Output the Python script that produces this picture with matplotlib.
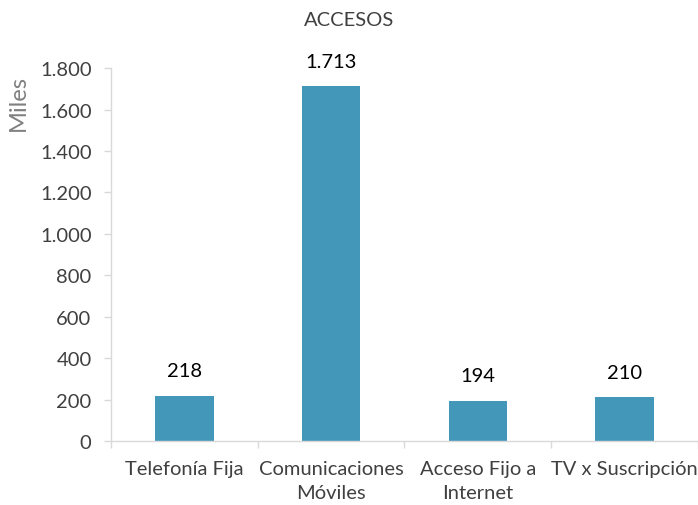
import matplotlib
matplotlib.use("Agg")
import matplotlib.pyplot as plt
from matplotlib.ticker import FuncFormatter

categories = ["Telefonía Fija", "Comunicaciones\nMóviles", "Acceso Fijo a\nInternet", "TV x Suscripción"]
values = [218, 1713, 194, 210]
yticks = [0, 200, 400, 600, 800, 1000, 1200, 1400, 1600, 1800]

plt.rcParams['font.family'] = ['Lato', 'DejaVu Sans']

def fmt(v, pos=None):
    return f"{int(round(v)):,}".replace(",", ".")

fig = plt.figure(figsize=(6.98, 5.06), dpi=100)
ax = fig.add_axes([0.159, 0.1265, 0.841, 0.737])
x = list(range(len(categories)))
bars = ax.bar(x, values, width=0.4, color="#4398BA")
ax.set_xlim(-0.5, len(categories) - 0.5)
ax.set_ylim(0, 1800)
ax.set_yticks(yticks)
ax.yaxis.set_major_formatter(FuncFormatter(fmt))
ax.set_xticks(x)
ax.set_xticklabels(categories, fontsize=14.5, color="#404040", linespacing=1.45)
ax.tick_params(axis='x', length=0, pad=14)
ax.set_xticks([i - 0.5 for i in range(len(categories) + 1)], minor=True)
ax.tick_params(axis='x', which='minor', length=5, color="#d9d9d9", width=1)
ax.tick_params(axis='y', length=5, color="#d9d9d9", width=1, labelsize=14.5, labelcolor="#404040", pad=9)
for s in ['top', 'right']:
    ax.spines[s].set_visible(False)
for s in ['left', 'bottom']:
    ax.spines[s].set_color("#d9d9d9")
    ax.spines[s].set_linewidth(1)

for xi, v in zip(x, values):
    ax.annotate(fmt(v), (xi, v), xytext=(0, 18), textcoords="offset points",
                ha="center", va="center", fontsize=14.5, color="black")

ax.set_ylabel("Miles", fontsize=17, color="#808080")
ax.yaxis.set_label_coords(-0.14, 0.91)
fig.text(0.5, 0.96, "ACCESOS", ha="center", va="center", fontsize=14.5, color="#404040")

fig.savefig("out.png", dpi=100)
